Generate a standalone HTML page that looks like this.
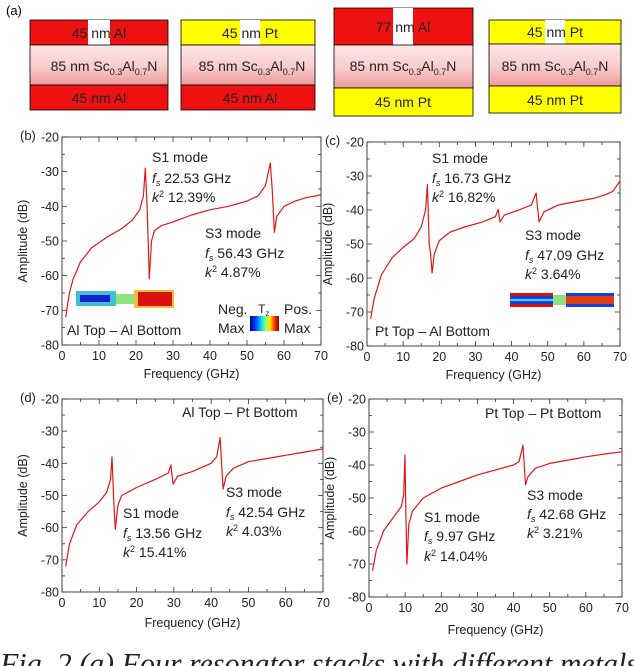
<!DOCTYPE html>
<html><head><meta charset="utf-8"><style>
body{margin:0;background:#fff;width:634px;height:666px;overflow:hidden;font-family:"Liberation Sans",sans-serif}
svg{display:block}
</style></head><body>
<svg id="fig" width="634" height="666" viewBox="0 0 634 666" xmlns="http://www.w3.org/2000/svg" font-family="Liberation Sans, sans-serif">
<defs>
<linearGradient id="pink" x1="0" y1="0" x2="0" y2="1"><stop offset="0" stop-color="#fde6e6"/><stop offset="0.55" stop-color="#f9cccc"/><stop offset="1" stop-color="#ee9a9a"/></linearGradient>
<linearGradient id="jet" x1="0" y1="0" x2="1" y2="0"><stop offset="0" stop-color="#00008f"/><stop offset="0.2" stop-color="#0040ff"/><stop offset="0.4" stop-color="#00e0ff"/><stop offset="0.55" stop-color="#a0ff60"/><stop offset="0.7" stop-color="#ffe000"/><stop offset="0.85" stop-color="#ff3000"/><stop offset="1" stop-color="#900000"/></linearGradient>
</defs>
<text x="6" y="15" font-size="13">(a)</text>
<g>
<rect x="30" y="20" width="138" height="25" fill="#ee1111" stroke="#000" stroke-width="0.8"/>
<rect x="88" y="20" width="22" height="25" fill="#fff"/>
<rect x="30" y="45" width="138" height="40" fill="url(#pink)" stroke="#000" stroke-width="0.8"/>
<rect x="30" y="85" width="138" height="25" fill="#ee1111" stroke="#000" stroke-width="0.8"/>
<text x="99" y="38" font-size="14" text-anchor="middle" fill="#222">45 nm Al</text>
<text x="104" y="71" font-size="14" text-anchor="middle" fill="#222">85 nm Sc<tspan font-size="9" dy="4">0.3</tspan><tspan dy="-4">Al</tspan><tspan font-size="9" dy="4">0.7</tspan><tspan dy="-4">N</tspan></text>
<text x="99" y="103" font-size="14" text-anchor="middle" fill="#222">45 nm Al</text>
</g>
<g>
<rect x="181" y="20" width="134" height="25" fill="#ffff00" stroke="#000" stroke-width="0.8"/>
<rect x="240" y="20" width="20" height="25" fill="#fff"/>
<rect x="181" y="45" width="134" height="40" fill="url(#pink)" stroke="#000" stroke-width="0.8"/>
<rect x="181" y="85" width="134" height="25" fill="#ee1111" stroke="#000" stroke-width="0.8"/>
<text x="250" y="38" font-size="14" text-anchor="middle" fill="#222">45 nm Pt</text>
<text x="252" y="71" font-size="14" text-anchor="middle" fill="#222">85 nm Sc<tspan font-size="9" dy="4">0.3</tspan><tspan dy="-4">Al</tspan><tspan font-size="9" dy="4">0.7</tspan><tspan dy="-4">N</tspan></text>
<text x="250" y="103" font-size="14" text-anchor="middle" fill="#222">45 nm Al</text>
</g>
<g>
<rect x="334" y="8" width="139" height="37" fill="#ee1111" stroke="#000" stroke-width="0.8"/>
<rect x="393" y="8" width="20" height="37" fill="#fff"/>
<rect x="334" y="45" width="139" height="43" fill="url(#pink)" stroke="#000" stroke-width="0.8"/>
<rect x="334" y="88" width="139" height="28" fill="#ffff00" stroke="#000" stroke-width="0.8"/>
<text x="403" y="32" font-size="14" text-anchor="middle" fill="#222">77 nm Al</text>
<text x="403" y="71" font-size="14" text-anchor="middle" fill="#222">85 nm Sc<tspan font-size="9" dy="4">0.3</tspan><tspan dy="-4">Al</tspan><tspan font-size="9" dy="4">0.7</tspan><tspan dy="-4">N</tspan></text>
<text x="403" y="107" font-size="14" text-anchor="middle" fill="#222">45 nm Pt</text>
</g>
<g>
<rect x="489" y="20" width="132" height="24" fill="#ffff00" stroke="#000" stroke-width="0.8"/>
<rect x="545" y="20" width="20" height="24" fill="#fff"/>
<rect x="489" y="44" width="132" height="42" fill="url(#pink)" stroke="#000" stroke-width="0.8"/>
<rect x="489" y="86" width="132" height="27" fill="#ffff00" stroke="#000" stroke-width="0.8"/>
<text x="555" y="37" font-size="14" text-anchor="middle" fill="#222">45 nm Pt</text>
<text x="555" y="71" font-size="14" text-anchor="middle" fill="#222">85 nm Sc<tspan font-size="9" dy="4">0.3</tspan><tspan dy="-4">Al</tspan><tspan font-size="9" dy="4">0.7</tspan><tspan dy="-4">N</tspan></text>
<text x="555" y="105" font-size="14" text-anchor="middle" fill="#222">45 nm Pt</text>
</g>
<text x="0" y="674" font-size="31" font-style="italic" font-family="Liberation Serif, serif" fill="#222" textLength="638" lengthAdjust="spacingAndGlyphs">Fig. 2 (a) Four resonator stacks with different metals</text>
</svg>
<script>
const xTicks = [0,10,20,30,40,50,60,70];
const yTicks = [-20,-30,-40,-50,-60,-70,-80];
const freqB = [1,2,3,5,8,12,16,19,21,22,22.5,23,23.6,24.2,25,27,30,35,40,45,50,53,55,56.3,56.8,57.4,58,60,63,66,70];
const ampB  = [-72,-65,-61,-56,-52,-49,-46.5,-44,-41,-37,-29,-40,-61,-50,-47,-45.5,-44.5,-42.5,-41,-40,-38.5,-37,-34,-27.5,-35,-47.5,-43,-40,-38.5,-37.5,-36.7];
const freqC = [1,2,4,7,10,13,15,16.2,16.7,17.2,17.6,18,18.6,20,23,27,32,35.5,36.3,36.8,38,42,45.5,46.8,47.6,49,53,58,63,66,68,70];
const ampC  = [-72,-66,-59,-54,-51,-48.5,-45,-40,-32.5,-50,-53,-58.5,-53,-49,-46.5,-45,-43.5,-42,-39.8,-43.5,-41.5,-40,-38.5,-35,-43.5,-40.5,-38.5,-37.5,-36.5,-35.5,-34.5,-31.5];
const freqD = [1,2,4,7,10,12,13,13.4,13.9,14.3,15,16,20,25,28.5,29.2,29.8,31,35,40,41.5,42.4,43.2,44,46,50,55,60,65,70];
const ampD  = [-72,-65,-59,-55,-52,-49,-45,-38,-52,-60.5,-53,-50,-47.5,-45,-43,-40.5,-46.5,-44,-42.5,-40,-38,-32,-48,-44,-41.5,-39.5,-38.5,-37.5,-36.5,-35.5];
const freqE = [1,2,4,7,9,9.6,9.97,10.2,10.5,11,12,15,20,25,30,35,40,41.5,42.6,43.3,44,46,50,55,60,65,70];
const ampE  = [-72,-66,-60,-55.5,-52.5,-49,-37,-55,-70,-58,-54,-50,-47,-45,-43,-41.5,-40,-39,-34,-46,-43.5,-41,-39.5,-38.5,-37.5,-36.7,-36];

const NS='http://www.w3.org/2000/svg';
const svg=document.getElementById('fig');
function mk(tag,attrs,parent){const e=document.createElementNS(NS,tag);for(const k in attrs)e.setAttribute(k,attrs[k]);(parent||svg).appendChild(e);return e;}
function txt(parent,x,y,s,size,anchor){const t=mk('text',{x:x,y:y,'font-size':size,'text-anchor':anchor||'start',fill:'#222'},parent);t.innerHTML=s;return t;}

function panel(id,box,freq,amp,label,ann,xtY){
  const g=mk('g',{});
  
  
  const [L,R,T,B]=box;
  const sx=f=>L+(f-0)/70*(R-L);
  const sy=v=>T+(-20-v)/60*(B-T);
  const frame=mk('rect',{x:L,y:T,width:R-L,height:B-T,fill:'none',stroke:'#333','stroke-width':0.9},g);
  
  
  for(let f=0;f<=70;f+=5){const maj=f%10===0;const l=maj?5:3;
    mk('line',{x1:sx(f),x2:sx(f),y1:B,y2:B-l,stroke:'#333','stroke-width':0.8},g);
    mk('line',{x1:sx(f),x2:sx(f),y1:T,y2:T+l,stroke:'#333','stroke-width':0.8},g);}
  for(let v=-20;v>=-80;v-=5){const maj=v%10===0;const l=maj?5:3;
    mk('line',{x1:L,x2:L+l,y1:sy(v),y2:sy(v),stroke:'#333','stroke-width':0.8},g);
    mk('line',{x1:R,x2:R-l,y1:sy(v),y2:sy(v),stroke:'#333','stroke-width':0.8},g);}
  xTicks.forEach(f=>{const t=txt(g,sx(f),B+15,f,12.5,'middle');
    
    });
  yTicks.forEach(v=>{const t=txt(g,L-3,sy(v)+4.5,v,12.5,'end');
    
    });
  const xt=txt(g,(L+R)/2,B+(xtY||33),'Frequency (GHz)',12.5,'middle');
  
  
  const yx=L-35, yy=(T+B)/2;
  const yt=txt(g,yx,yy,'Amplitude (dB)',12.5,'middle');
  yt.setAttribute('transform','rotate(-90 '+yx+' '+yy+')');
  
  
  const pl=txt(g,L-42,T+3,label,13,'start');
  
  
  const pts=freq.map((f,i)=>sx(f).toFixed(1)+','+sy(amp[i]).toFixed(1)).join(' ');
  const line=mk('polyline',{points:pts,fill:'none',stroke:'#e01818','stroke-width':1.2,'stroke-linejoin':'round'},g);
  
  
  ann.forEach(a=>{const t=txt(g,a[0],a[1],a[2],14,a[3]||'start');
    
    });
  return g;
}
const fs=(v)=>'<tspan font-style="italic">f</tspan><tspan font-size="9" dy="3" font-style="italic">s</tspan><tspan dy="-3"> '+v+'</tspan>';
const k2=(v)=>'<tspan font-style="italic">k</tspan><tspan font-size="9" dy="-5">2</tspan><tspan dy="5"> '+v+'</tspan>';

panel('b',[62,321,137,345],freqB,ampB,'(b)',[[152,162,'S1 mode'],[152,183,fs('22.53 GHz')],[152,202,k2('12.39%')],[205,238,'S3 mode'],[205,258,fs('56.43 GHz')],[205,277,k2('4.87%')],[67,335,'Al Top – Al Bottom'],[218,314,'Neg.'],[218,333,'Max'],[284,314,'Pos.'],[284,333,'Max']]);
panel('c',[367,620,142,346],freqC,ampC,'(c)',[[432,163,'S1 mode'],[432,183,fs('16.73 GHz')],[432,202,k2('16.82%')],[525,240,'S3 mode'],[525,260,fs('47.09 GHz')],[525,279,k2('3.64%')],[375,336,'Pt Top – Al Bottom']]);
panel('d',[62,323,399,592],freqD,ampD,'(d)',[[182,417,'Al Top – Pt Bottom'],[123,518,'S1 mode'],[123,538,fs('13.56 GHz')],[123,557,k2('15.41%')],[226,497,'S3 mode'],[226,517,fs('42.54 GHz')],[226,536,k2('4.03%')]],35);
panel('e',[369,622,399,597],freqE,ampE,'(e)',[[485,418,'Pt Top – Pt Bottom'],[424,522,'S1 mode'],[424,541,fs('9.97 GHz')],[424,561,k2('14.04%')],[527,500,'S3 mode'],[527,519,fs('42.68 GHz')],[527,538,k2('3.21%')]],37);

const ib=mk('g',{});


mk('rect',{x:76,y:291,width:40,height:15,fill:'#40c0d0'},ib);
mk('rect',{x:80,y:295,width:30,height:7,fill:'#1020d0'},ib);
mk('rect',{x:116,y:294,width:18,height:10,fill:'#90e080'},ib);
mk('rect',{x:134,y:290,width:40,height:18,fill:'#f0c030'},ib);
mk('rect',{x:138,y:292,width:34,height:14,fill:'#dd1010'},ib);
const cb=mk('rect',{x:250,y:316,width:29,height:15,fill:'url(#jet)'});


txt(svg,258,313,'T<tspan font-size="8" dy="3">z</tspan>',12,'start');
const ic=mk('g',{});


mk('rect',{x:510,y:293,width:43,height:14,fill:'#dd1010'},ic);
mk('rect',{x:510,y:296,width:43,height:8,fill:'#1040e0'},ic);
mk('rect',{x:510,y:299,width:43,height:2,fill:'#30e0ff'},ic);
mk('rect',{x:553,y:295,width:13,height:10,fill:'#90e080'},ic);
mk('rect',{x:566,y:293,width:48,height:14,fill:'#1040e0'},ic);
mk('rect',{x:566,y:296,width:48,height:8,fill:'#e04010'},ic);
</script>
</body></html>
